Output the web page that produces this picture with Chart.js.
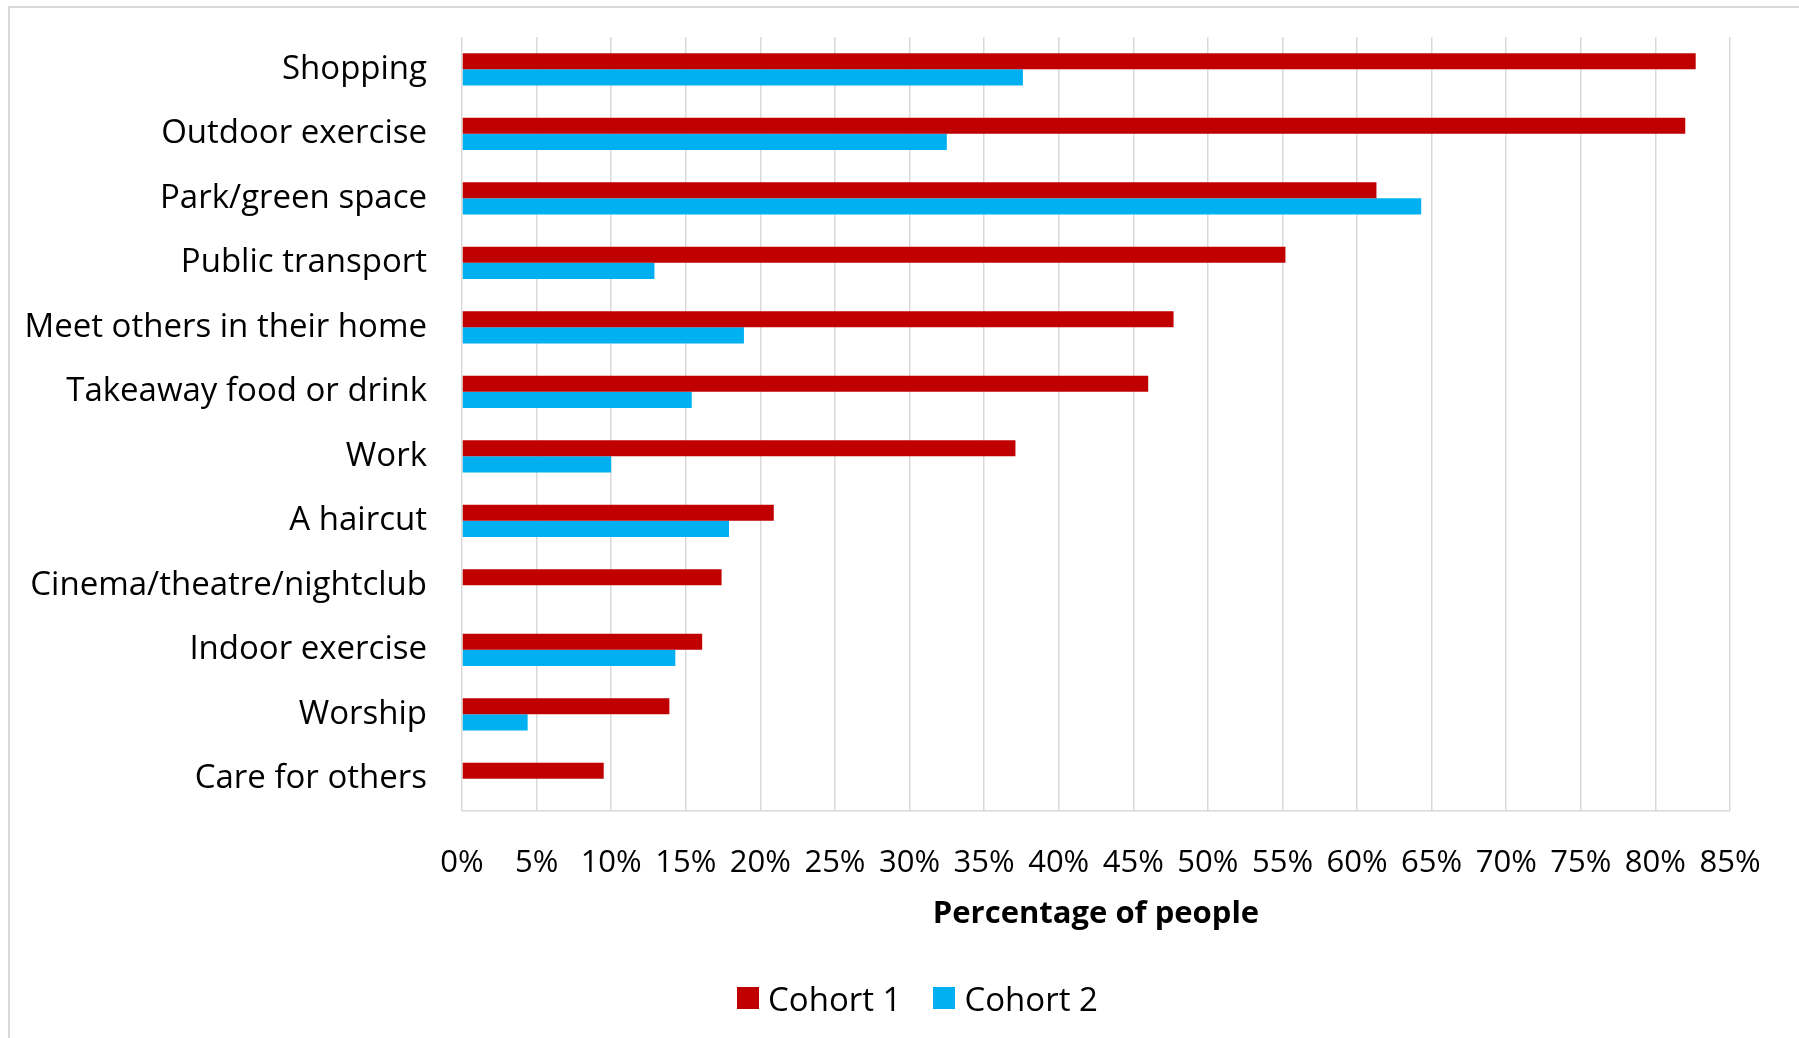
<!DOCTYPE html>
<html>
<head>
<meta charset="utf-8">
<script src="https://cdn.jsdelivr.net/npm/chart.js@4.4.1/dist/chart.umd.min.js"></script>
<style>
  html, body { margin: 0; padding: 0; background: #fff; }
  body { width: 1799px; height: 1038px; position: relative; overflow: hidden; font-family: 'Open Sans', 'DejaVu Sans', sans-serif; }
  #frame { position: absolute; left: 8px; top: 6px; width: 1900px; height: 1200px; border: 2px solid #d9d9d9; box-sizing: border-box; }
  #wrap { position: absolute; left: 0; top: 0; width: 1799px; height: 1038px; }
  #legend { position: absolute; left: 737px; top: 975px; height: 46px; display: flex; align-items: center; font-size: 33px; color: #000; white-space: nowrap; }
  .item { display: flex; align-items: center; margin-right: 32px; }
  .box { width: 22px; height: 22px; margin-right: 9px; }
</style>
</head>
<body>
<div id="frame"></div>
<div id="wrap"><canvas id="c" width="1799" height="1038"></canvas></div>
<div id="legend"></div>
<script>
const categories = ["Shopping", "Outdoor exercise", "Park/green space", "Public transport", "Meet others in their home", "Takeaway food or drink", "Work", "A haircut", "Cinema/theatre/nightclub", "Indoor exercise", "Worship", "Care for others"];
const cohort1 = [82.7, 82.0, 61.3, 55.2, 47.7, 46.0, 37.1, 20.9, 17.4, 16.1, 13.9, 9.5];
const cohort2 = [37.6, 32.5, 64.3, 12.9, 18.9, 15.4, 10.0, 17.9, 0, 14.3, 4.4, 0];
const seriesNames = ["Cohort 1", "Cohort 2"];
const seriesColors = ["#C00000", "#00B0F0"];
const xTickMax = 85;
const xTickStep = 5;
const xTitle = "Percentage of people";

const FONT = "'Open Sans', 'DejaVu Sans', sans-serif";
Chart.defaults.font.family = FONT;
Chart.defaults.color = "#000";

const chart = new Chart(document.getElementById('c'), {
  type: 'bar',
  data: {
    labels: categories,
    datasets: [
      { label: seriesNames[0], data: cohort1, backgroundColor: seriesColors[0], categoryPercentage: 0.5, barPercentage: 1.0 },
      { label: seriesNames[1], data: cohort2, backgroundColor: seriesColors[1], categoryPercentage: 0.5, barPercentage: 1.0 }
    ]
  },
  options: {
    indexAxis: 'y',
    responsive: false,
    animation: false,
    layout: { padding: { left: 0, right: 69, top: 37, bottom: 0 } },
    plugins: {
      legend: { display: false },
      tooltip: { enabled: false }
    },
    scales: {
      y: {
        grid: { display: false, drawTicks: false },
        border: { display: false },
        ticks: { font: { size: 33 }, padding: 35, color: '#000', autoSkip: false },
        afterFit: (s) => { s.width = 462; s.paddingTop = 0; s.paddingBottom = 0; }
      },
      x: {
        min: 0, max: xTickMax,
        grid: { color: '#d9d9d9', lineWidth: 1.5, drawTicks: false },
        border: { color: '#d9d9d9', width: 1.5 },
        ticks: { stepSize: xTickStep, font: { size: 31 }, padding: 34, color: '#000', maxRotation: 0, autoSkip: false, callback: (v) => v + '%' },
        title: { display: true, text: xTitle, font: { size: 31, weight: 'bold' }, color: '#000', padding: { top: 0, bottom: 105 } },
        afterFit: (s) => { s.height = 227; s.paddingLeft = 0; s.paddingRight = 0; }
      }
    }
  }
});

// HTML legend built from the series
const legendEl = document.getElementById('legend');
seriesNames.forEach((name, i) => {
  const item = document.createElement('div');
  item.className = 'item';
  const box = document.createElement('div');
  box.className = 'box';
  box.style.background = seriesColors[i];
  const txt = document.createElement('span');
  txt.textContent = name;
  item.appendChild(box);
  item.appendChild(txt);
  legendEl.appendChild(item);
});
</script>
</body>
</html>
